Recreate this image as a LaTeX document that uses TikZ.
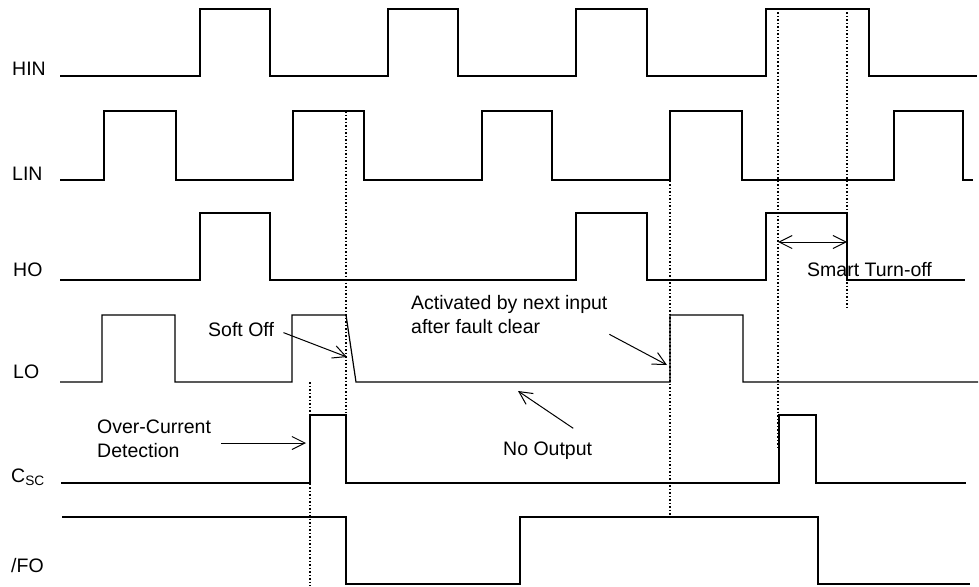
\documentclass[tikz,border=0pt]{standalone}
\usepackage{fontspec}
\setmainfont{Liberation Sans}
\usetikzlibrary{arrows.meta}

\begin{document}
\begin{tikzpicture}[x=1pt, y=-1pt,
  wave/.style={line width=1.2pt},
  guide/.style={dotted, line width=1.5pt},
  sig/.style={anchor=base west, inner sep=0pt},
  note/.style={anchor=base west, inner sep=0pt, align=left},
  pointer/.style={line width=1pt, -{Straight Barb[length=13pt,width=13pt]}},
  span/.style={line width=1pt, {Straight Barb[length=13pt,width=13pt]}-{Straight Barb[length=13pt,width=13pt]}},
  every node/.style={font=\fontsize{19.5}{24}\selectfont}]
\useasboundingbox (0,0) rectangle (979,586);

\node[sig] (hin) at (12,75) {HIN};
\node[sig] (lin) at (12,180) {LIN};
\node[sig] (ho) at (13,276) {HO};
\node[sig] (lo) at (13,378) {LO};
\node[sig] (csc) at (11,482) {C\textsubscript{SC}};
\node[sig] (fo) at (11,572) {/FO};

\draw[wave] (60,76) -| (200,9) -| (270,76) -| (388,9) -| (458,76) -| (576,9) -| (647,76) -| (766,9) -| (869,76) -- (977,76);
\draw[wave] (60,180) -| (104,111) -| (176,180) -| (293,111) -| (364,180) -| (482,111) -| (552,180) -| (670,111) -| (742,180) -| (894,111) -| (963,180) -- (973,180);
\draw[wave] (60,280) -| (200,213) -| (270,280) -| (576,213) -| (647,280) -| (766,213) -| (847,280) -- (965,280);
\draw[wave] (60,382) -| (102,315) -| (175,382) -| (292,315) -- (346,315) -- (356,382) -| (670,315) -| (743,382) -- (978,382);
\draw[wave] (61,483) -| (310,415) -| (346,483) -| (779,415) -| (816,483) -- (966,483);
\draw[wave] (62,517) -| (346,584) -| (520,517) -| (818,584) -- (970,584);

\draw[guide] (346,111) -- (346,413);
\draw[guide] (310,382) -- (310,586);
\draw[guide] (670,149) -- (670,515);
\draw[guide] (778,9) -- (778,450);
\draw[guide] (847,9) -- (847,310);

\node[note] (soft) at (208,336) {Soft Off};
\coordinate (softend) at (347,357);
\draw[pointer, shorten <=10pt] (soft.east) -- (softend);

\node[note] (act) at (411,333) {Activated by next input\\after fault clear};
\coordinate (actend) at (667,365);
\draw[pointer, shorten <=2pt] (act.south east) -- (actend);

\node[note] (noout) at (503,455) {No Output};
\coordinate (nooutend) at (518,391);
\draw[pointer, shorten <=23pt] (noout.north east) -- (nooutend);

\node[note] (oc) at (97,457) {Over-Current\\Detection};
\coordinate (ocend) at (306,443);
\draw[pointer, shorten <=10pt] (oc.east |- ocend) -- (ocend);

\coordinate (stl) at (778,242);
\coordinate (str) at (847,242);
\draw[span] (stl) -- (str);
\node[note] (smart) at (807,276) {Smart Turn-off};
\end{tikzpicture}
\end{document}
